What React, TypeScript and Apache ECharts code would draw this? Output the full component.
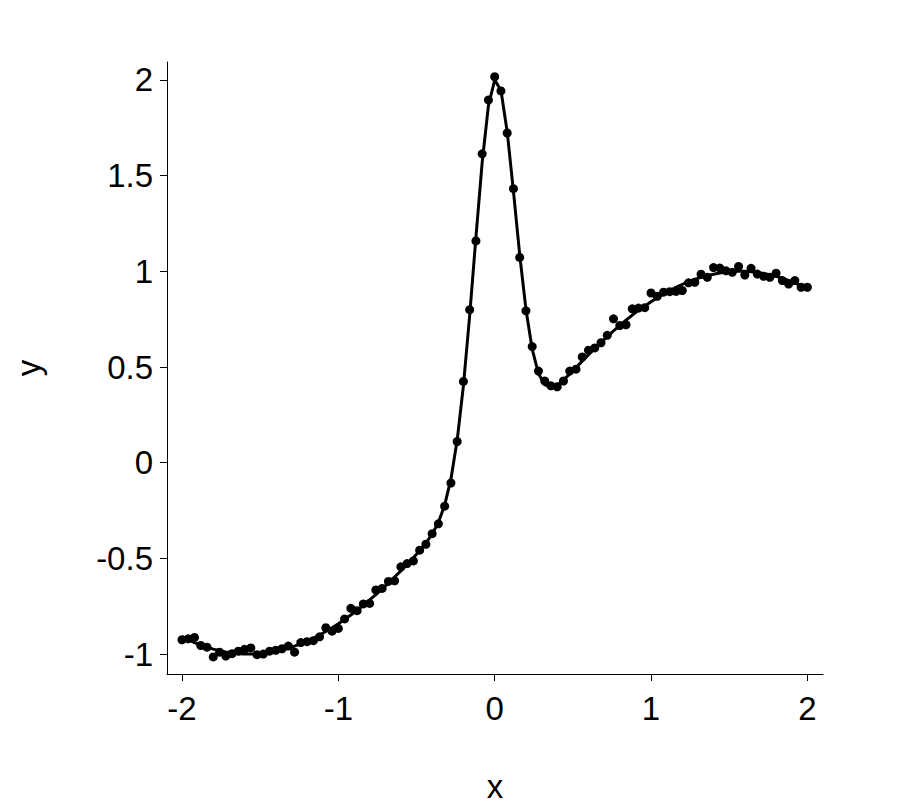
import React, { useEffect, useRef } from "react";
import * as echarts from "echarts";

const pointX: number[] = [
  -2.0, -1.96, -1.92, -1.88, -1.84, -1.8, -1.76, -1.72, -1.68, -1.64, -1.6, -1.56, -1.52, -1.48, -1.44, -1.4, -1.36,
  -1.32, -1.28, -1.24, -1.2, -1.16, -1.12, -1.08, -1.04, -1.0, -0.96, -0.92, -0.88, -0.84, -0.8, -0.76, -0.72, -0.68,
  -0.64, -0.6, -0.56, -0.52, -0.48, -0.44, -0.4, -0.36, -0.32, -0.28, -0.24, -0.2, -0.16, -0.12, -0.08, -0.04, 0.0,
  0.04, 0.08, 0.12, 0.16, 0.2, 0.24, 0.28, 0.32, 0.36, 0.4, 0.44, 0.48, 0.52, 0.56, 0.6, 0.64, 0.68, 0.72, 0.76, 0.8,
  0.84, 0.88, 0.92, 0.96, 1.0, 1.04, 1.08, 1.12, 1.16, 1.2, 1.24, 1.28, 1.32, 1.36, 1.4, 1.44, 1.48, 1.52, 1.56, 1.6,
  1.64, 1.68, 1.72, 1.76, 1.8, 1.84, 1.88, 1.92, 1.96, 2.0,
];

const pointY: number[] = [
  -0.925, -0.92, -0.913, -0.955, -0.964, -1.015, -0.99, -1.01, -0.998, -0.985, -0.975, -0.968, -1.003, -1.0, -0.985,
  -0.98, -0.972, -0.958, -0.99, -0.94, -0.935, -0.93, -0.91, -0.862, -0.88, -0.866, -0.816, -0.761, -0.773, -0.738,
  -0.735, -0.665, -0.657, -0.62, -0.617, -0.544, -0.527, -0.513, -0.457, -0.426, -0.371, -0.319, -0.227, -0.106, 0.111,
  0.425, 0.8, 1.159, 1.614, 1.896, 2.017, 1.943, 1.723, 1.432, 1.073, 0.794, 0.607, 0.479, 0.427, 0.402, 0.397, 0.427,
  0.479, 0.489, 0.553, 0.588, 0.6, 0.627, 0.666, 0.752, 0.717, 0.721, 0.804, 0.808, 0.81, 0.887, 0.87, 0.891, 0.894,
  0.895, 0.9, 0.94, 0.943, 0.985, 0.969, 1.02, 1.017, 1.003, 0.995, 1.026, 0.981, 1.016, 0.986, 0.974, 0.969, 0.99,
  0.952, 0.934, 0.952, 0.917, 0.917,
];

const curveY: number[] = [
  -0.909, -0.925, -0.94, -0.953, -0.964, -0.974, -0.982, -0.989, -0.994, -0.998, -1.0, -1.0, -0.999, -0.996, -0.991,
  -0.985, -0.978, -0.969, -0.958, -0.946, -0.932, -0.917, -0.9, -0.882, -0.862, -0.841, -0.819, -0.796, -0.771, -0.745,
  -0.717, -0.689, -0.659, -0.629, -0.597, -0.565, -0.531, -0.497, -0.46, -0.42, -0.373, -0.311, -0.222, -0.086, 0.117,
  0.403, 0.769, 1.178, 1.57, 1.866, 2.0, 1.946, 1.73, 1.418, 1.087, 0.801, 0.593, 0.466, 0.408, 0.393, 0.405, 0.432,
  0.464, 0.497, 0.531, 0.565, 0.597, 0.629, 0.659, 0.689, 0.717, 0.745, 0.771, 0.796, 0.819, 0.841, 0.862, 0.882, 0.9,
  0.917, 0.932, 0.946, 0.958, 0.969, 0.978, 0.985, 0.991, 0.996, 0.999, 1.0, 1.0, 0.998, 0.994, 0.989, 0.982, 0.974,
  0.964, 0.953, 0.94, 0.925, 0.909,
];

const xTicks: number[] = [-2, -1, 0, 1, 2];
const yTicks: number[] = [-1, -0.5, 0, 0.5, 1, 1.5, 2];

export default function App() {
  const ref = useRef<HTMLDivElement>(null);
  useEffect(() => {
    if (!ref.current) return;
    const chart = echarts.init(ref.current, undefined, { renderer: "svg" });
    const font = "'Liberation Sans', Arial, sans-serif";
    chart.setOption({
      animation: false,
      backgroundColor: "#ffffff",
      grid: { left: 167, right: 87, top: 62, bottom: 131, containLabel: false },
      xAxis: {
        type: "value",
        min: -2.096,
        max: 2.1,
        name: "x",
        nameLocation: "middle",
        nameGap: 96,
        nameTextStyle: { fontFamily: font, fontSize: 33, color: "#000" },
        axisLine: { show: true, onZero: false, lineStyle: { color: "#000", width: 1 } },
        axisTick: { show: true, inside: false, length: 7, customValues: xTicks, lineStyle: { color: "#000" } },
        axisLabel: { show: true, customValues: xTicks, margin: 18, fontFamily: font, fontSize: 33, color: "#000" },
        splitLine: { show: false },
      },
      yAxis: {
        type: "value",
        min: -1.104,
        max: 2.094,
        name: "y",
        nameLocation: "middle",
        nameGap: 122,
        nameRotate: 90,
        nameTextStyle: { fontFamily: font, fontSize: 33, color: "#000" },
        axisLine: { show: true, onZero: false, lineStyle: { color: "#000", width: 1 } },
        axisTick: { show: true, inside: false, length: 7, customValues: yTicks, lineStyle: { color: "#000" } },
        axisLabel: { show: true, customValues: yTicks, margin: 14, fontFamily: font, fontSize: 33, color: "#000" },
        splitLine: { show: false },
      },
      series: [
        {
          type: "line",
          data: pointX.map((x, i) => [x, curveY[i]]),
          showSymbol: false,
          symbol: "none",
          lineStyle: { color: "#000", width: 3 },
          z: 2,
        },
        {
          type: "scatter",
          data: pointX.map((x, i) => [x, pointY[i]]),
          symbol: "circle",
          symbolSize: 9,
          itemStyle: { color: "#000", opacity: 1 },
          z: 3,
        },
      ],
    });
    return () => chart.dispose();
  }, []);
  return <div ref={ref} style={{ position: "fixed", left: 0, top: 0, width: 910, height: 808 }} />;
}
